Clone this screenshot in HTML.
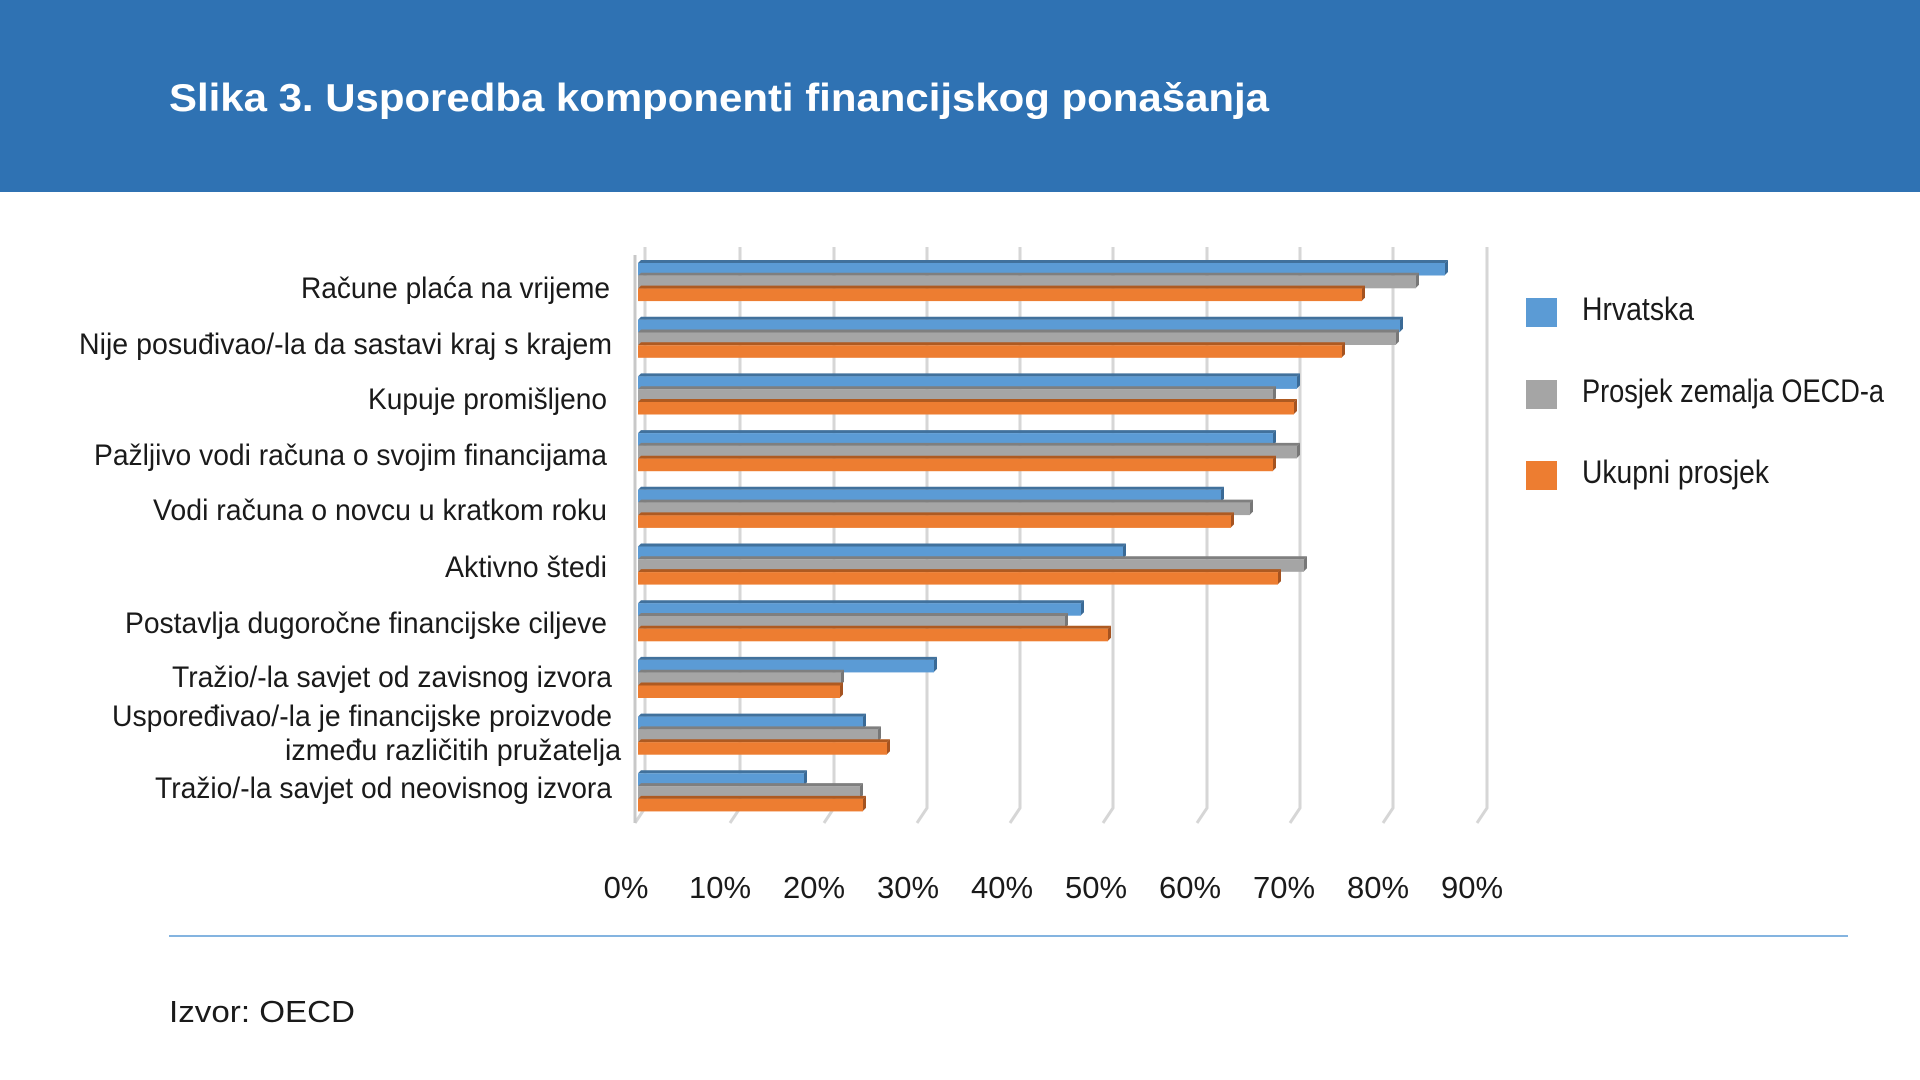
<!DOCTYPE html>
<html><head><meta charset="utf-8"><style>
html,body{margin:0;padding:0;background:#fff;width:1920px;height:1080px;overflow:hidden}
svg{display:block}
text{font-family:"Liberation Sans Narrow","Liberation Sans",sans-serif;fill:#1a1a1a}
</style></head><body>
<svg width="1920" height="1080" viewBox="0 0 1920 1080">
<rect x="0" y="0" width="1920" height="192" fill="#2f72b3"/>
<text x="169" y="111" textLength="1100" lengthAdjust="spacingAndGlyphs" style="font-family:'Liberation Sans',sans-serif;font-weight:bold;font-size:39px;fill:#fff">Slika 3. Usporedba komponenti financijskog ponašanja</text>

<g stroke="#d6d6d6" stroke-width="3" fill="none">
<polyline points="645,247 645,808 635,823"/>
<polyline points="740,247 740,808 730,823"/>
<polyline points="834,247 834,808 824,823"/>
<polyline points="927,247 927,808 917,823"/>
<polyline points="1020,247 1020,808 1010,823"/>
<polyline points="1113,247 1113,808 1103,823"/>
<polyline points="1207,247 1207,808 1197,823"/>
<polyline points="1300,247 1300,808 1290,823"/>
<polyline points="1393,247 1393,808 1383,823"/>
<polyline points="1487,247 1487,808 1477,823"/>
</g>
<line x1="635" y1="255" x2="635" y2="823" stroke="#c8c8c8" stroke-width="3"/>

<g id="bars"></g>

<g style="font-size:30px" text-anchor="end">
<text x="610" y="298" textLength="309" lengthAdjust="spacingAndGlyphs">Račune plaća na vrijeme</text>
<text x="612" y="354" textLength="533" lengthAdjust="spacingAndGlyphs">Nije posuđivao/-la da sastavi kraj s krajem</text>
<text x="607" y="409" textLength="239" lengthAdjust="spacingAndGlyphs">Kupuje promišljeno</text>
<text x="607" y="465" textLength="513" lengthAdjust="spacingAndGlyphs">Pažljivo vodi računa o svojim financijama</text>
<text x="607" y="520" textLength="454" lengthAdjust="spacingAndGlyphs">Vodi računa o novcu u kratkom roku</text>
<text x="607" y="577" textLength="162" lengthAdjust="spacingAndGlyphs">Aktivno štedi</text>
<text x="607" y="633" textLength="482" lengthAdjust="spacingAndGlyphs">Postavlja dugoročne financijske ciljeve</text>
<text x="612" y="687" textLength="440" lengthAdjust="spacingAndGlyphs">Tražio/-la savjet od zavisnog izvora</text>
<text x="612" y="726" textLength="500" lengthAdjust="spacingAndGlyphs">Uspoređivao/-la je financijske proizvode</text>
<text x="621" y="760" textLength="336" lengthAdjust="spacingAndGlyphs">između različitih pružatelja</text>
<text x="612" y="798" textLength="457" lengthAdjust="spacingAndGlyphs">Tražio/-la savjet od neovisnog izvora</text>
</g>

<g style="font-size:31px" text-anchor="middle">
<text x="626" y="898">0%</text><text x="720" y="898">10%</text><text x="814" y="898">20%</text>
<text x="908" y="898">30%</text><text x="1002" y="898">40%</text><text x="1096" y="898">50%</text>
<text x="1190" y="898">60%</text><text x="1284" y="898">70%</text><text x="1378" y="898">80%</text>
<text x="1472" y="898">90%</text>
</g>

<rect x="1526" y="298" width="31" height="29" fill="#5b9bd5"/>
<rect x="1526" y="380" width="31" height="29" fill="#a5a5a5"/>
<rect x="1526" y="461" width="31" height="29" fill="#ed7d31"/>
<g style="font-size:32px">
<text x="1582" y="320" textLength="112" lengthAdjust="spacingAndGlyphs">Hrvatska</text>
<text x="1582" y="402" textLength="302" lengthAdjust="spacingAndGlyphs">Prosjek zemalja OECD-a</text>
<text x="1582" y="483" textLength="187" lengthAdjust="spacingAndGlyphs">Ukupni prosjek</text>
</g>

<line x1="169" y1="936" x2="1848" y2="936" stroke="#5b9bd5" stroke-width="1.5"/>
<text x="169" y="1022" textLength="186" lengthAdjust="spacingAndGlyphs" style="font-family:'Liberation Sans',sans-serif;font-size:31px">Izvor: OECD</text>
</svg>
<script>
var ends=[[1445,1416,1362],[1400,1396,1342],[1297,1273,1294],[1273,1297,1273],[1221,1250,1231],[1123,1304,1278],[1081,1065,1108],[934,841,840],[863,878,887],[804,860,863]];
var fill=["#5b9bd5","#a5a5a5","#ed7d31"],top_=["#41719c","#7f7f7f","#ae5a21"],side=["#3a6a96","#777","#a55320"];
var s="";
for(var i=0;i<ends.length;i++){var y0=262+i*56.7;
for(var j=0;j<3;j++){var y=y0+j*12.8,x2=ends[i][j];
s+='<polygon points="638,'+(y+1)+' 641,'+(y-2)+' '+(x2+3)+','+(y-2)+' '+x2+','+(y+1)+'" fill="'+top_[j]+'"/>';
s+='<polygon points="'+x2+','+(y+1)+' '+(x2+3)+','+(y-2)+' '+(x2+3)+','+(y+10)+' '+x2+','+(y+13)+'" fill="'+side[j]+'"/>';
s+='<rect x="638" y="'+(y+1)+'" width="'+(x2-638)+'" height="12.5" fill="'+fill[j]+'"/>';}}
document.getElementById("bars").innerHTML=s;
</script>
</body></html>
